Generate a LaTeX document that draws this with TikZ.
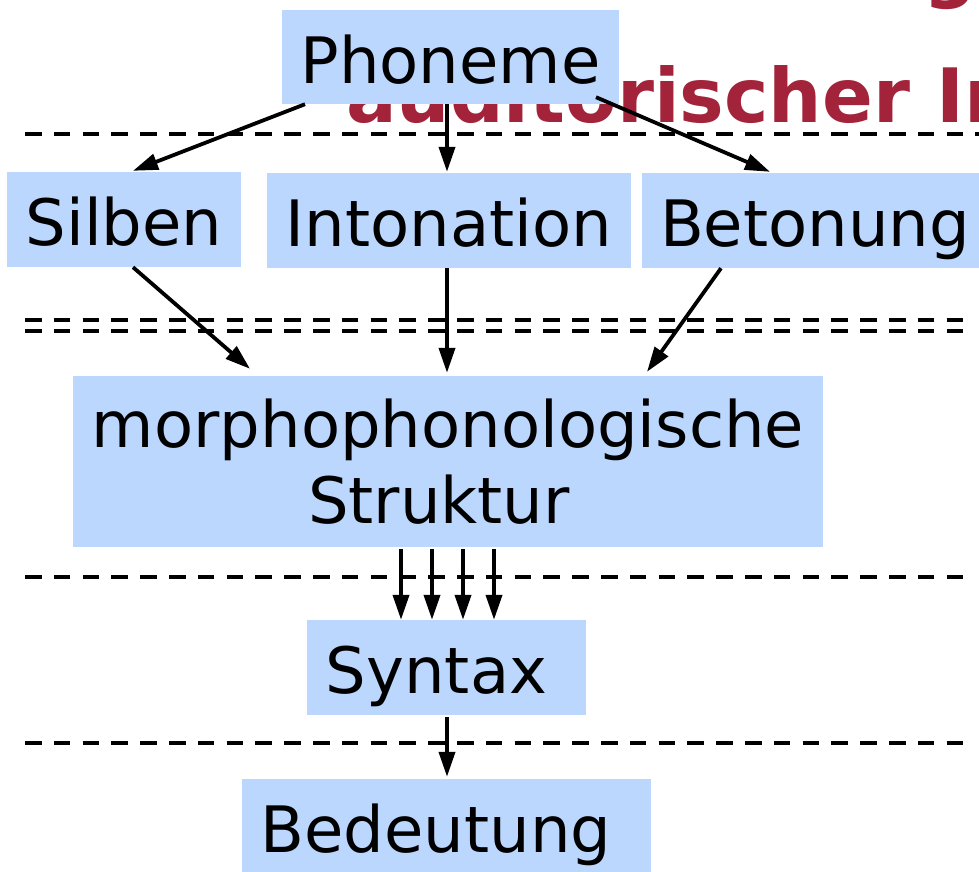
\documentclass[tikz,border=0pt]{standalone}
\usepackage{fontspec}
\setmainfont{DejaVu Sans}
\usetikzlibrary{arrows.meta}
\definecolor{boxblue}{RGB}{187,215,254}
\definecolor{titlered}{RGB}{163,36,58}
\tikzset{
  box/.style={fill=boxblue, draw=none, inner sep=0pt, text height=52pt, text depth=0pt,
              font=\fontsize{64}{76}\selectfont},
  arr/.style={line width=3.8pt, -{Triangle[length=25pt,width=16pt]}},
  sep/.style={line width=4.3pt, dash pattern=on 16.5pt off 12.3pt},
  titletext/.style={text=titlered, inner sep=0pt, font=\fontsize{75}{90}\selectfont\bfseries}
}
\begin{document}
\begin{tikzpicture}[x=1pt,y=-1pt]
\clip (0,0) rectangle (979,871);
\fill[white] (0,0) rectangle (979,871);
% title fragments behind the diagram
\node[titletext, anchor=base west] (tg) at (923,-7) {g};
\node[titletext, anchor=base west] (title) at (346,122) {auditorischer In};
% separators
\draw[sep] (25,134) -- (985,134);
\draw[sep] (25,320) -- (964,320);
\draw[sep] (25,331) -- (964,331);
\draw[sep] (25,577) -- (964,577);
\draw[sep] (25,743) -- (964,743);
% boxes
\node[box, minimum width=337pt, minimum height=94pt] (phon) at (450.5,57) {Phoneme};
\node[box, minimum width=234pt, minimum height=95pt] (silb) at (124,219.5) {Silben};
\node[box, minimum width=364pt, minimum height=95pt] (inton) at (449,220.5) {Intonation};
\node[box, minimum width=346pt, minimum height=95pt] (beto) at (815,220.5) {Betonung};
\node[box, minimum width=750pt, minimum height=171pt, align=center, text height=, text depth=] (morph) at (448,461.5) {morphophonologische\\Struktur\kern18pt};
\node[box, minimum width=279pt, minimum height=95pt] (syn) at (446.5,667.5) {Syntax\kern20pt};
\node[box, minimum width=409pt, minimum height=95pt] (bed) at (446.5,826.5) {Bedeutung\kern21pt};
% connectors
\draw[arr] ([xshift=-145.5pt]phon.south) -- ([xshift=9pt,yshift=1pt]silb.north);
\draw[arr] ([xshift=-3.5pt]phon.south) -- ([xshift=-2pt,yshift=1pt]inton.north);
\draw[arr] ([xshift=145.5pt,yshift=7pt]phon.south) -- ([xshift=-45pt,yshift=1pt]beto.north);
\draw[arr] ([xshift=9pt]silb.south) -- ([xshift=-198pt,yshift=7pt]morph.north);
\draw[arr] ([xshift=-2pt]inton.south) -- ([xshift=-1pt,yshift=3pt]morph.north);
\draw[arr] ([xshift=-94pt]beto.south) -- ([xshift=199pt,yshift=4pt]morph.north);
\draw[arr] ([xshift=-47pt,yshift=-2pt]morph.south) coordinate (m1) -- (m1 |- syn.north);
\draw[arr] ([xshift=-16pt,yshift=-2pt]morph.south) coordinate (m2) -- (m2 |- syn.north);
\draw[arr] ([xshift=15pt,yshift=-2pt]morph.south) coordinate (m3) -- (m3 |- syn.north);
\draw[arr] ([xshift=46pt,yshift=-2pt]morph.south) coordinate (m4) -- (m4 |- syn.north);
\draw[arr] ([xshift=0.5pt,yshift=-2pt]syn.south) coordinate (s1) -- ([yshift=2pt]s1 |- bed.north);
\end{tikzpicture}
\end{document}
